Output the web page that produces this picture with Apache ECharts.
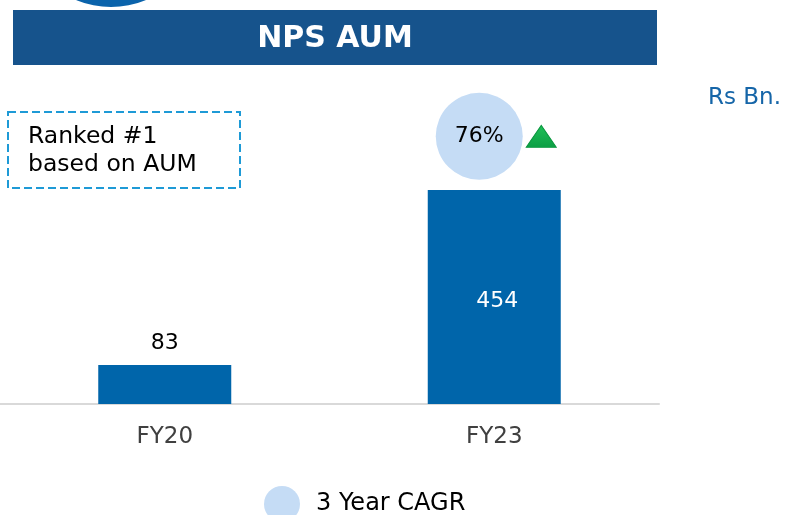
<!DOCTYPE html>
<html>
<head>
<meta charset="utf-8">
<script src="https://cdn.jsdelivr.net/npm/echarts@6/dist/echarts.min.js"></script>
<style>
  html, body { margin: 0; padding: 0; background: #ffffff; }
  #chart { width: 785px; height: 515px; }
</style>
</head>
<body>
<div id="chart"></div>
<script>
// NPS assets under management, Rs Bn.
const categories = ['FY20', 'FY23'];
const aumValues = [83, 454];
const cagrValues = [null, 76];          // 3 year CAGR, percent
const cagrName = '3 Year CAGR';
const titleText = 'NPS AUM';
const unitText = 'Rs Bn.';
const noteLines = ['Ranked #1', 'based on AUM'];

const FONT = '"DejaVu Sans", Verdana, sans-serif';
const BAR_COLOR = '#0065AA';
const CAGR_ROW = 568;   // vertical slot for the CAGR bubble above the bars

const chart = echarts.init(document.getElementById('chart'), null, { renderer: 'canvas' });

const barData = aumValues.map((v, i) => {
  const inside = i === aumValues.length - 1;
  return {
    value: v,
    label: inside
      ? { show: true, position: 'inside', offset: [3, 4], color: '#ffffff' }
      : { show: true, position: 'top', distance: 11, color: '#000000' }
  };
});

const cagrData = cagrValues
  .map((v, i) => (v == null ? null : { value: [categories[i], CAGR_ROW], cagr: v }))
  .filter(Boolean);

chart.setOption({
  animation: false,
  textStyle: { fontFamily: FONT },
  grid: { left: 0, right: 126, top: 93, bottom: 111, containLabel: false },
  xAxis: {
    type: 'category',
    data: categories,
    axisLine: { lineStyle: { color: '#d9d9d9', width: 2 } },
    axisTick: { show: false },
    axisLabel: { color: '#404040', fontSize: 23, fontFamily: FONT, margin: 22 }
  },
  yAxis: {
    type: 'value',
    min: 0,
    max: 660,
    show: false,
    splitLine: { show: false }
  },
  legend: {
    data: [{ name: cagrName, icon: 'circle' }],
    left: 259,
    top: 481,
    itemWidth: 58,
    itemHeight: 36,
    textStyle: { color: '#000000', fontSize: 24, fontFamily: FONT }
  },
  series: [
    {
      name: 'AUM',
      type: 'bar',
      data: barData,
      barWidth: 133,
      itemStyle: { color: BAR_COLOR },
      label: { fontSize: 22, fontFamily: FONT }
    },
    {
      name: cagrName,
      type: 'scatter',
      clip: false,
      data: cagrData,
      symbol: 'circle',
      symbolSize: 87,
      symbolOffset: [-15, 0],
      itemStyle: { color: '#C5DCF5', opacity: 1 },
      label: {
        show: true,
        position: 'inside',
        formatter: p => p.data.cagr + '%',
        color: '#000000',
        fontSize: 22,
        fontFamily: FONT
      },
      z: 3
    },
    {
      name: 'growth',
      type: 'scatter',
      clip: false,
      data: cagrData,
      symbol: 'triangle',
      symbolSize: [30, 22],
      symbolOffset: [47, 0],
      itemStyle: {
        color: new echarts.graphic.LinearGradient(0, 0, 0, 1, [
          { offset: 0, color: '#1FC058' },
          { offset: 1, color: '#0C9E44' }
        ]),
        borderColor: '#0A963F',
        borderWidth: 1,
        opacity: 1
      },
      z: 3
    }
  ],
  graphic: [
    {
      type: 'circle',
      shape: { cx: 111, cy: -83, r: 90 },
      style: { fill: '#0A63AB' }
    },
    {
      type: 'rect',
      shape: { x: 13, y: 10, width: 644, height: 55 },
      style: { fill: '#16538C' }
    },
    {
      type: 'text',
      x: 335,
      y: 39,
      style: {
        text: titleText,
        fill: '#ffffff',
        font: 'bold 30px ' + FONT,
        align: 'center',
        verticalAlign: 'middle'
      }
    },
    {
      type: 'text',
      x: 708,
      y: 98,
      style: {
        text: unitText,
        fill: '#1565A8',
        font: '23px ' + FONT,
        align: 'left',
        verticalAlign: 'middle'
      }
    },
    {
      type: 'rect',
      shape: { x: 8, y: 112, width: 232, height: 76 },
      style: { fill: 'none', stroke: '#1E9AD6', lineWidth: 2, lineDash: [8, 4] }
    },
    {
      type: 'text',
      x: 28,
      y: 137,
      style: {
        text: noteLines[0],
        fill: '#000000',
        font: '23.5px ' + FONT,
        align: 'left',
        verticalAlign: 'middle'
      }
    },
    {
      type: 'text',
      x: 28,
      y: 165,
      style: {
        text: noteLines[1],
        fill: '#000000',
        font: '23.5px ' + FONT,
        align: 'left',
        verticalAlign: 'middle'
      }
    }
  ]
});
</script>
</body>
</html>
